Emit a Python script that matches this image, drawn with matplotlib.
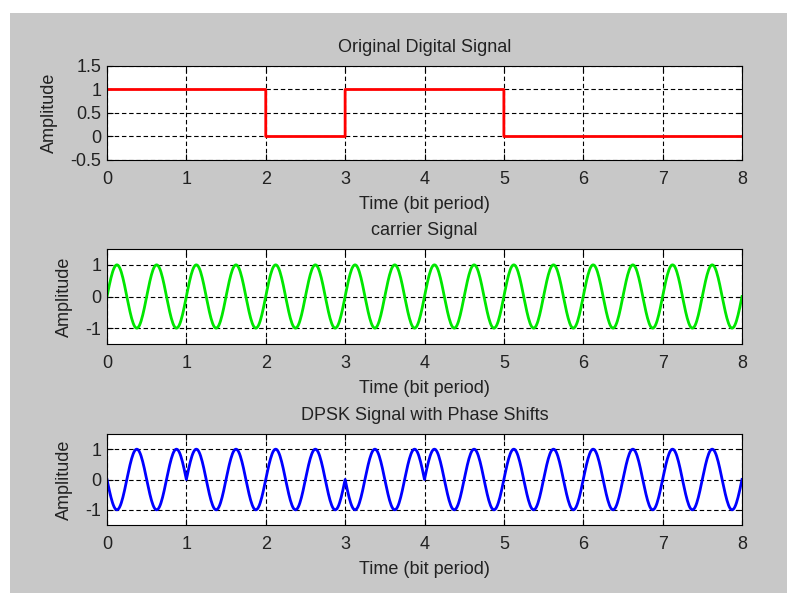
import numpy as np
import matplotlib
matplotlib.use('Agg')
import matplotlib.pyplot as plt
from matplotlib.patches import Rectangle

plt.rcParams['font.family'] = ['Liberation Sans', 'DejaVu Sans']
plt.rcParams['font.size'] = 13
plt.rcParams['axes.unicode_minus'] = False

# data
bits = [1, 1, 0, 1, 1, 0, 0, 0]
carrier_freq = 2          # cycles per bit period
samples_per_bit = 100
x_ticks = [0, 1, 2, 3, 4, 5, 6, 7, 8]
digital_yticks = [-0.5, 0, 0.5, 1, 1.5]
digital_yticklabels = ['-0.5', '0', '0.5', '1', '1.5']
wave_yticks = [-1, 0, 1]

# differential encoding: phase flips by pi for every 1 bit
phase = []
cur = 0
for b in bits:
    cur = cur ^ b
    phase.append(cur)

t = np.arange(len(bits) * samples_per_bit + 1) / samples_per_bit
bit_idx = np.minimum(t.astype(int), len(bits) - 1)
digital = np.array(bits)[bit_idx]
carrier = np.sin(2 * np.pi * carrier_freq * t)
dpsk = np.sin(2 * np.pi * carrier_freq * t + np.pi * np.array(phase)[bit_idx])

W, H = 787, 593
fig = plt.figure(figsize=(W / 100, H / 100), dpi=100)
fig.patch.set_facecolor('white')
fig.patches.append(Rectangle((10 / W, 0), 1, 1 - 13 / H, transform=fig.transFigure,
                             facecolor='#c8c8c8', edgecolor='none', zorder=-10))

def add_ax(top, bottom):
    return fig.add_axes([107 / W, 1 - bottom / H, (742 - 107) / W, (bottom - top) / H])

ax1 = add_ax(66, 160)
ax2 = add_ax(249, 344)
ax3 = add_ax(434, 525)

ax1.step(t, digital, where='post', color='red', lw=2)
ax2.plot(t, carrier, color='#00e600', lw=2)
ax3.plot(t, dpsk, color='blue', lw=2)

titles = ['Original Digital Signal', 'carrier Signal', 'DPSK Signal with Phase Shifts']
for ax, title in zip([ax1, ax2, ax3], titles):
    ax.set_facecolor('white')
    ax.set_xlim(0, 8)
    ax.set_xticks(x_ticks)
    ax.set_title(title, fontsize=13, pad=10, color='#222222')
    ax.set_xlabel('Time (bit period)', fontsize=13, labelpad=6, color='#222222')
    ax.set_ylabel('Amplitude', fontsize=13, labelpad=9, color='#222222')
    ax.grid(True, color='black', linestyle=(0, (4, 2.5)), lw=0.8)
    ax.tick_params(direction='in', top=True, right=True, length=4, width=0.8,
                   labelcolor='#222222')
    ax.tick_params(axis='x', pad=8)
    ax.tick_params(axis='y', pad=4)
    for s in ax.spines.values():
        s.set_linewidth(0.8)

ax1.set_ylim(-0.5, 1.5)
ax1.set_yticks(digital_yticks)
ax1.set_yticklabels(digital_yticklabels)
for ax in [ax2, ax3]:
    ax.set_ylim(-1.5, 1.5)
    ax.set_yticks(wave_yticks)

fig.savefig('out.png', dpi=100)
